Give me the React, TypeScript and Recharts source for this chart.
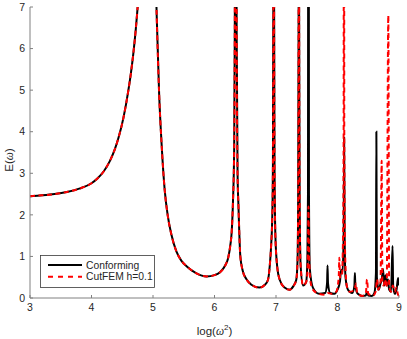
import { LineChart, Line, XAxis, YAxis } from 'recharts';

// shared part of the spectrum (both methods agree up to ~7.5)
const lowBandLogW2 = [
  3.0, 3.2, 3.4, 3.6, 3.8, 4.0, 4.1, 4.2, 4.3, 4.38, 4.44, 4.52, 4.6, 4.64, 4.68, 4.72, 4.745,
  4.8, 4.88, 4.93, 4.98, 5.03, 5.06, 5.1, 5.14, 5.19, 5.24, 5.3, 5.38, 5.46, 5.55, 5.7, 5.87,
  6.0, 6.09, 6.18, 6.22, 6.26, 6.28, 6.3, 6.32, 6.33, 6.345, 6.36, 6.375, 6.39, 6.42, 6.46,
  6.52, 6.6, 6.73, 6.82, 6.87, 6.9, 6.92, 6.94, 6.95, 6.958, 6.963, 6.968, 6.976, 6.99, 7.02,
  7.06, 7.14, 7.22, 7.28, 7.33, 7.35, 7.36, 7.368, 7.372, 7.376, 7.385, 7.4, 7.44, 7.49,
];
const lowBandE = [
  2.45, 2.47, 2.5, 2.55, 2.63, 2.76, 2.88, 3.05, 3.3, 3.58, 3.86, 4.34, 5.0, 5.4, 5.88, 6.46, 6.9,
  8.2, 12, 15, 11.5, 8.6, 6.8, 4.9, 3.7, 2.6, 1.98, 1.52, 1.12, 0.9, 0.76, 0.6, 0.52,
  0.55, 0.62, 0.8, 0.95, 1.3, 1.6, 2.3, 3.6, 6.5, 20, 6.5, 3.0, 2.2, 1.0, 0.65,
  0.45, 0.32, 0.25, 0.32, 0.44, 0.8, 1.24, 2.0, 3.2, 8, 25, 8, 3.2, 1.5, 0.75,
  0.44, 0.25, 0.2, 0.28, 0.44, 0.9, 2.2, 7, 25, 7, 2.2, 0.8, 0.3, 0.38,
];

const conformingHighLogW2 = [
  7.51, 7.52, 7.528, 7.536, 7.55, 7.6, 7.7, 7.8, 7.83, 7.838, 7.846, 7.88, 7.95, 8.0, 8.04,
  8.06, 8.08, 8.1, 8.108, 8.116, 8.13, 8.17, 8.24, 8.275, 8.283, 8.29, 8.33, 8.4, 8.46, 8.48,
  8.5, 8.56, 8.6, 8.625, 8.632, 8.64, 8.67, 8.7, 8.72, 8.74, 8.76, 8.78, 8.8, 8.82, 8.84,
  8.87, 8.895, 8.905, 8.93, 8.96, 8.985, 9.0,
];
const conformingHighE = [
  0.9, 2.5, 25, 2.5, 0.7, 0.25, 0.1, 0.12, 0.35, 0.78, 0.35, 0.12, 0.1, 0.2, 0.4,
  0.68, 0.6, 1.5, 3.85, 1.5, 0.5, 0.2, 0.12, 0.3, 0.6, 0.3, 0.1, 0.05, 0.06, 0.15,
  0.06, 0.05, 0.12, 0.6, 4.0, 0.5, 0.2, 0.35, 0.45, 0.7, 0.3, 0.55, 0.3, 0.45, 0.2,
  0.15, 1.25, 0.3, 0.1, 0.2, 0.48, 0.3,
];

const cutfemHighLogW2 = [
  7.51, 7.52, 7.528, 7.536, 7.56, 7.6, 7.7, 7.8, 7.84, 7.9, 7.98, 8.02, 8.03, 8.04, 8.07,
  8.09, 8.1, 8.105, 8.11, 8.125, 8.15, 8.2, 8.28, 8.3, 8.32, 8.4, 8.46, 8.48, 8.5, 8.58,
  8.62, 8.645, 8.66, 8.7, 8.718, 8.73, 8.75, 8.77, 8.8, 8.826, 8.84, 8.87, 8.9, 8.93, 8.96,
  8.98, 9.0,
];
const cutfemHighE = [
  0.6, 1.2, 2.2, 1.2, 0.4, 0.2, 0.1, 0.08, 0.12, 0.1, 0.15, 0.5, 0.97, 0.5, 0.5,
  1.5, 4, 25, 4, 1.0, 0.3, 0.15, 0.2, 0.35, 0.12, 0.05, 0.1, 0.45, 0.1, 0.06,
  0.15, 0.45, 0.2, 0.4, 3.3, 0.4, 0.3, 0.45, 0.25, 6.8, 0.3, 0.15, 0.3, 0.15, 0.25,
  0.1, 0.05,
];

const xTicks = [3, 4, 5, 6, 7, 8, 9];
const yTicks = [0, 1, 2, 3, 4, 5, 6, 7];
const seriesNames = ['Conforming', 'CutFEM h=0.1'];

const toPoints = (xs: number[], ys: number[]) => xs.map((x, i) => ({ x, e: ys[i] }));

const conformingData = toPoints(
  [...lowBandLogW2, ...conformingHighLogW2],
  [...lowBandE, ...conformingHighE],
);
const cutfemData = toPoints([...lowBandLogW2, ...cutfemHighLogW2], [...lowBandE, ...cutfemHighE]);

const font = '"Liberation Sans", Arial, Helvetica, sans-serif';
const axisGray = '#808080';
const textColor = '#262626';

function XLabel() {
  return (
    <text x={214.5} y={335} textAnchor="middle" fontFamily={font} fontSize={11.5} fill={textColor}>
      log(
      <tspan fontFamily='"Liberation Serif", serif' fontStyle="italic">ω</tspan>
      <tspan dy={-5} fontSize={8}>2</tspan>
      <tspan dy={5}>)</tspan>
    </text>
  );
}

function YLabel() {
  return (
    <text
      x={0}
      y={0}
      transform="translate(13, 160) rotate(-90)"
      textAnchor="middle"
      fontFamily={font}
      fontSize={11.5}
      fill={textColor}
    >
      E(
      <tspan fontFamily='"Liberation Serif", serif' fontStyle="italic">ω</tspan>)
    </text>
  );
}

function LegendBox() {
  return (
    <svg
      width={407}
      height={339}
      style={{ position: 'absolute', left: 0, top: 0, pointerEvents: 'none' }}
    >
      <rect x={40.5} y={255.5} width={114} height={32} fill="#fff" stroke="#3a3a3a" strokeWidth={0.8} />
      <line x1={48} y1={265} x2={82} y2={265} stroke="#000" strokeWidth={2} />
      <text x={86} y={268.7} fontFamily={font} fontSize={10.3} fill={textColor}>
        {seriesNames[0]}
      </text>
      <line x1={48} y1={276.7} x2={82} y2={276.7} stroke="#ff0000" strokeWidth={2} strokeDasharray="5 5" />
      <text x={86} y={280.4} fontFamily={font} fontSize={10.3} fill={textColor}>
        {seriesNames[1]}
      </text>
    </svg>
  );
}

export default function App() {
  return (
    <div style={{ position: 'absolute', left: 0, top: 0, width: 407, height: 339, background: '#fff' }}>
      <LineChart width={407} height={339} margin={{ top: 7, right: 8, bottom: 0, left: 0 }}>
        <XAxis
          type="number"
          dataKey="x"
          domain={[3, 9]}
          ticks={xTicks}
          allowDataOverflow
          height={41}
          stroke={axisGray}
          tickSize={-3}
          tickMargin={9}
          tick={{ fill: textColor, fontSize: 10.5, fontFamily: font }}
          label={<XLabel />}
        />
        <YAxis
          type="number"
          domain={[0, 7]}
          ticks={yTicks}
          allowDataOverflow
          width={30}
          stroke={axisGray}
          tickSize={-3}
          tickMargin={8}
          tick={{ fill: textColor, fontSize: 10.5, fontFamily: font }}
          label={<YLabel />}
        />
        <Line
          data={conformingData}
          dataKey="e"
          name={seriesNames[0]}
          type="monotoneX"
          stroke="#000"
          strokeWidth={2}
          dot={false}
          isAnimationActive={false}
        />
        <Line
          data={cutfemData}
          dataKey="e"
          name={seriesNames[1]}
          type="monotoneX"
          stroke="#ff0000"
          strokeWidth={2}
          strokeDasharray="5 3.5"
          dot={false}
          isAnimationActive={false}
        />
      </LineChart>
      <LegendBox />
    </div>
  );
}
